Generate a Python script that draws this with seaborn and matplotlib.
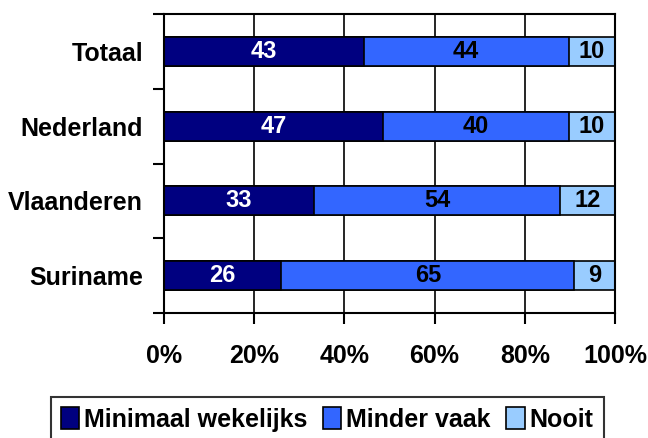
import matplotlib
matplotlib.use("Agg")
import matplotlib.pyplot as plt
import seaborn as sns
import numpy as np
import pandas as pd
from matplotlib.patches import Patch

countries = ["Totaal", "Nederland", "Vlaanderen", "Suriname"]
series_names = ["Minimaal wekelijks", "Minder vaak", "Nooit"]
minimaal = [43, 47, 33, 26]
minder = [44, 40, 54, 65]
nooit = [10, 10, 12, 9]
x_ticks = [0, 20, 40, 60, 80, 100]
x_ticklabels = ["0%", "20%", "40%", "60%", "80%", "100%"]

colors = ["#000080", "#3366FF", "#99CCFF"]
text_colors = ["white", "black", "black"]

sns.set_theme(style="white")
plt.rcParams["font.family"] = ["Liberation Sans", "DejaVu Sans"]
plt.rcParams["font.weight"] = "bold"
plt.rcParams["text.color"] = "black"
plt.rcParams["xtick.labelcolor"] = "black"
plt.rcParams["ytick.labelcolor"] = "black"
plt.rcParams["axes.labelcolor"] = "black"

raw = np.array([minimaal, minder, nooit], dtype=float)  # series x country
totals = raw.sum(axis=0)
shares = raw / totals * 100
cum = np.cumsum(shares, axis=0)

fig = plt.figure(figsize=(6.48, 4.38), dpi=100)
ax = fig.add_axes([164/648, 1-313/438, (615-164)/648, (313-14)/438])

# draw stacked bars via cumulative overlay (largest first)
for k in reversed(range(3)):
    df = pd.DataFrame({"country": countries, "value": cum[k]})
    sns.barplot(data=df, x="value", y="country", orient="h", color=colors[k],
                saturation=1, edgecolor="black", linewidth=1.2, width=0.39, ax=ax)

# value labels
for k in range(3):
    starts = cum[k] - shares[k]
    for i in range(len(countries)):
        ax.text(starts[i] + shares[k][i] / 2, i, f"{int(raw[k][i])}",
                ha="center", va="center", color=text_colors[k],
                fontsize=17, fontweight="bold")

ax.set_xlim(0, 100)
ax.set_ylim(3.5, -0.5)
ax.set_xticks(x_ticks)
ax.set_xticklabels(x_ticklabels, fontsize=18, fontweight="bold", color="black")
ax.set_yticks([-0.5, 0.5, 1.5, 2.5, 3.5])
ax.set_yticklabels([])
ax.set_yticks(range(len(countries)), minor=True)
ax.set_yticklabels(countries, minor=True, fontsize=18, fontweight="bold", color="black")
ax.tick_params(axis="y", which="minor", length=0, pad=15)
ax.tick_params(axis="y", which="major", length=8, width=1.5, color="black", direction="out", left=True)
ax.tick_params(axis="x", which="major", length=8, width=1.5, color="black", direction="out", bottom=True, pad=14)
ax.set_xlabel("")
ax.set_ylabel("")

ax.set_axisbelow(True)
ax.xaxis.grid(True, color="black", linewidth=1.2)
ax.yaxis.grid(False)
for s in ax.spines.values():
    s.set_visible(True)
    s.set_color("black")
    s.set_linewidth(1.5)

handles = [Patch(facecolor=colors[k], edgecolor="black", linewidth=1.2) for k in range(3)]
leg = fig.legend(handles, series_names, loc="upper center", bbox_to_anchor=(327/648, 1-397/438),
                 ncol=3, frameon=True, fancybox=False, edgecolor="black",
                 prop={"size": 18, "weight": "bold"}, handlelength=0.75, handleheight=1.0,
                 handletextpad=0.2, columnspacing=0.6, borderpad=0.4, borderaxespad=0)
leg.get_frame().set_linewidth(1.5)
for t in leg.get_texts():
    t.set_color("black")

fig.savefig("out.png", dpi=100)
